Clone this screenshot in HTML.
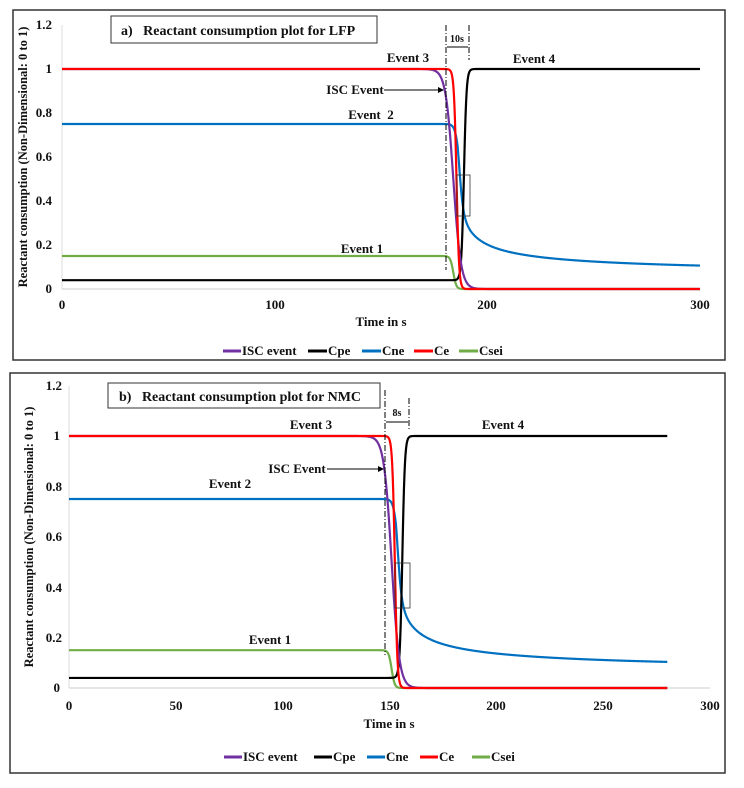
<!DOCTYPE html>
<html><head><style>
body{margin:0;background:#fff;}
svg text{font-family:"Liberation Serif",serif;font-weight:bold;fill:#111;}
</style></head><body>
<svg id="s" width="744" height="783" xmlns="http://www.w3.org/2000/svg">
<rect x="0" y="0" width="744" height="783" fill="#fff"/>
<!-- Panel a -->
<rect x="13" y="10" width="712" height="350" fill="none" stroke="#333" stroke-width="1.5"/>
<line x1="62" y1="25" x2="62" y2="289" stroke="#ddd"/>
<line x1="62" y1="289" x2="700" y2="289" stroke="#ccc"/>
<g font-size="13" text-anchor="end">
<text x="52" y="29">1.2</text><text x="52" y="73">1</text><text x="52" y="117">0.8</text><text x="52" y="161">0.6</text><text x="52" y="205">0.4</text><text x="52" y="249">0.2</text><text x="52" y="293">0</text>
</g>
<g font-size="13" text-anchor="middle">
<text x="62" y="309">0</text><text x="275" y="309">100</text><text x="487" y="309">200</text><text x="700" y="309">300</text>
<text x="381" y="326">Time in s</text>
</g>
<text transform="translate(27,157) rotate(-90)" font-size="12.5" text-anchor="middle">Reactant consumption (Non-Dimensional: 0 to 1)</text>
<rect x="111" y="16" width="266" height="27" fill="#fff" stroke="#333"/>
<text x="121" y="35" font-size="14">a)&#160;&#160;&#160;Reactant consumption plot for LFP</text>
<g id="ca"></g>
<line x1="446" y1="25" x2="446" y2="270" stroke="#000" stroke-dasharray="6,2,1,2"/>
<line x1="469" y1="25" x2="469" y2="60" stroke="#000" stroke-dasharray="6,2,1,2"/>
<line x1="447" y1="47" x2="468" y2="47" stroke="#000"/>
<text x="457" y="42" font-size="10" text-anchor="middle">10s</text>
<rect x="457" y="175" width="13" height="41" fill="none" stroke="#333" stroke-width="0.8"/>
<g font-size="13" text-anchor="middle">
<text x="408" y="62">Event 3</text><text x="534" y="63">Event 4</text>
<text x="355" y="94">ISC Event</text><text x="371" y="119">Event&#160; 2</text><text x="362" y="253">Event 1</text>
</g>
<line x1="384" y1="90" x2="440" y2="90" stroke="#000"/><polygon points="444,90 438,87 438,93" fill="#000"/>
<g font-size="13">
<line x1="223" y1="351" x2="241" y2="351" stroke="#7030a0" stroke-width="3"/><text x="242" y="355">ISC event</text>
<line x1="308" y1="351" x2="327" y2="351" stroke="#000" stroke-width="3"/><text x="328" y="355">Cpe</text>
<line x1="362" y1="351" x2="381" y2="351" stroke="#0070c0" stroke-width="3"/><text x="382" y="355">Cne</text>
<line x1="414" y1="351" x2="433" y2="351" stroke="#ff0000" stroke-width="3"/><text x="434" y="355">Ce</text>
<line x1="459" y1="351" x2="478" y2="351" stroke="#70ad47" stroke-width="3"/><text x="479" y="355">Csei</text>
</g>
<!-- Panel b -->
<rect x="10" y="373" width="715" height="400" fill="none" stroke="#333" stroke-width="1.5"/>
<line x1="69" y1="386" x2="69" y2="688" stroke="#ddd"/>
<line x1="69" y1="688" x2="710" y2="688" stroke="#ccc"/>
<g font-size="13" text-anchor="end">
<text x="62" y="390">1.2</text><text x="60" y="440">1</text><text x="62" y="491">0.8</text><text x="62" y="541">0.6</text><text x="62" y="592">0.4</text><text x="62" y="642">0.2</text><text x="60" y="692">0</text>
</g>
<g font-size="13" text-anchor="middle">
<text x="69" y="710">0</text><text x="176" y="710">50</text><text x="283" y="710">100</text><text x="390" y="710">150</text><text x="496" y="710">200</text><text x="603" y="710">250</text><text x="710" y="710">300</text>
<text x="389" y="728">Time in s</text>
</g>
<text transform="translate(33,537) rotate(-90)" font-size="12.5" text-anchor="middle">Reactant consumption (Non-Dimensional: 0 to 1)</text>
<rect x="108" y="383" width="272" height="25" fill="#fff" stroke="#333"/>
<text x="119" y="401" font-size="14">b)&#160;&#160;&#160;Reactant consumption plot for NMC</text>
<g id="cb"></g>
<line x1="385" y1="390" x2="385" y2="655" stroke="#000" stroke-dasharray="6,2,1,2"/>
<line x1="409" y1="398" x2="409" y2="430" stroke="#000" stroke-dasharray="6,2,1,2"/>
<line x1="386" y1="422" x2="408" y2="422" stroke="#000"/>
<text x="397" y="416" font-size="10" text-anchor="middle">8s</text>
<rect x="395" y="563" width="15" height="45" fill="none" stroke="#333" stroke-width="0.8"/>
<g font-size="13" text-anchor="middle">
<text x="311" y="429">Event 3</text><text x="503" y="429">Event 4</text>
<text x="297" y="473">ISC Event</text><text x="230" y="488">Event 2</text><text x="270" y="644">Event 1</text>
</g>
<line x1="327" y1="469" x2="380" y2="469" stroke="#000"/><polygon points="384,469 378,466 378,472" fill="#000"/>
<g font-size="13">
<line x1="224" y1="757" x2="242" y2="757" stroke="#7030a0" stroke-width="3"/><text x="243" y="761">ISC event</text>
<line x1="314" y1="757" x2="332" y2="757" stroke="#000" stroke-width="3"/><text x="333" y="761">Cpe</text>
<line x1="367" y1="757" x2="385" y2="757" stroke="#0070c0" stroke-width="3"/><text x="386" y="761">Cne</text>
<line x1="420" y1="757" x2="438" y2="757" stroke="#ff0000" stroke-width="3"/><text x="439" y="761">Ce</text>
<line x1="472" y1="757" x2="490" y2="757" stroke="#70ad47" stroke-width="3"/><text x="491" y="761">Csei</text>
</g>
</svg>
<script>
function L(t,c,s){return 1/(1+Math.exp((t-c)/s));}
function draw(id,x0,xs,y0,ys,sh,tmax){
  var g=document.getElementById(id);
  var f={
   "#70ad47":function(t){return 0.15*L(t,184-sh,0.7);},
   "#0070c0":function(t){var l=L(t,186.5-sh,0.9);var tt=t+sh;var tail=0.05+0.43*Math.pow(1+Math.max(0,tt-186)/2,-0.5);return 0.75*l+(1-l)*Math.min(tail,0.75);},
   "#000000":function(t){return 0.04+0.96*(1-L(t,189-sh,0.6));},
   "#7030a0":function(t){return L(t,184-sh,1.8);},
   "#ff0000":function(t){return L(t,185.5-sh,0.6);}
  };
  for(var k in f){var d="";for(var t=0;t<=tmax;t+=0.25){var x=x0+t*xs,y=y0-f[k](t)*ys;d+=(t==0?"M":"L")+x.toFixed(2)+","+y.toFixed(2);}
   var p=document.createElementNS("http://www.w3.org/2000/svg","path");p.setAttribute("d",d);p.setAttribute("fill","none");p.setAttribute("stroke",k);p.setAttribute("stroke-width","2.2");g.appendChild(p);}
}
draw("ca",62,638/300,289,220,0,300);
draw("cb",69,641/300,688,252,33,280);
</script>
</body></html>
